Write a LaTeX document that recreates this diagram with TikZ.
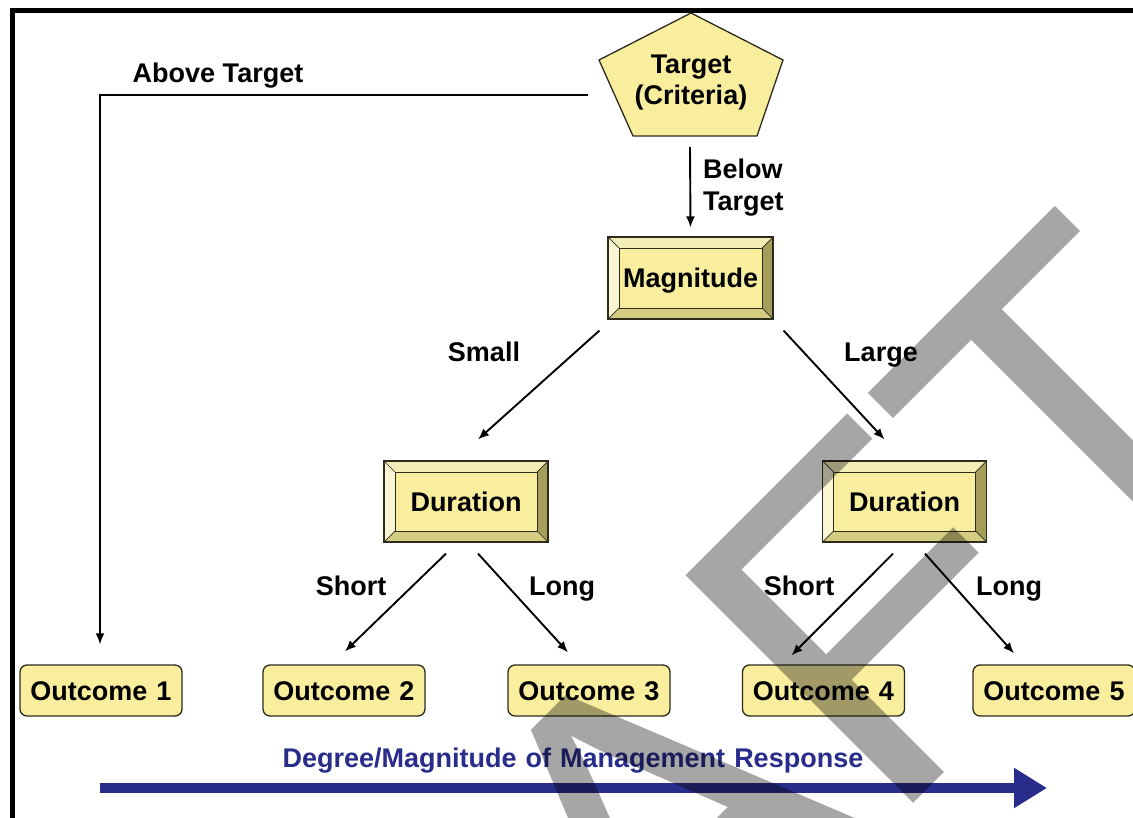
\documentclass[tikz,border=0pt]{standalone}
\usepackage{fontspec}
\setmainfont{Liberation Sans}
\usetikzlibrary{arrows.meta,calc}
\definecolor{boxyellow}{RGB}{248,238,158}
\definecolor{bevtop}{RGB}{243,237,184}
\definecolor{bevleft}{RGB}{250,246,212}
\definecolor{bevright}{RGB}{164,158,90}
\definecolor{bevbottom}{RGB}{212,204,128}
\definecolor{edge}{RGB}{45,43,28}
\definecolor{navy}{RGB}{40,44,138}
\definecolor{wmgray}{RGB}{166,166,166}
\newcommand\bevelpic{%
  \coordinate (bNW) at (path picture bounding box.north west);
  \coordinate (bNE) at (path picture bounding box.north east);
  \coordinate (bSE) at (path picture bounding box.south east);
  \coordinate (bSW) at (path picture bounding box.south west);
  \coordinate (iNW) at ([shift={(11pt,-11pt)}]bNW);
  \coordinate (iNE) at ([shift={(-11pt,-11pt)}]bNE);
  \coordinate (iSE) at ([shift={(-11pt,11pt)}]bSE);
  \coordinate (iSW) at ([shift={(11pt,11pt)}]bSW);
  \fill[bevtop] (bNW) -- (bNE) -- (iNE) -- (iNW) -- cycle;
  \fill[bevright] (bNE) -- (bSE) -- (iSE) -- (iNE) -- cycle;
  \fill[bevbottom] (bSE) -- (bSW) -- (iSW) -- (iSE) -- cycle;
  \fill[bevleft] (bSW) -- (bNW) -- (iNW) -- (iSW) -- cycle;
  \draw[edge, line width=0.9pt] (iNW) rectangle (iSE);
  \draw[edge, line width=0.7pt] (bNW) -- (iNW) (bNE) -- (iNE) (bSE) -- (iSE) (bSW) -- (iSW);
}
\begin{document}
\begin{tikzpicture}[x=1pt,y=1pt,
  lbl/.style={font=\fontsize{27}{33}\selectfont\bfseries, text=black, inner sep=0pt},
  one/.style={lbl, text height=19.4pt, text depth=0pt},
  conn/.style={line width=1.9pt, -{Latex[length=11pt,width=9pt]}},
  outbox/.style={one, draw=edge, line width=1.3pt, fill=boxyellow, rounded corners=7pt, minimum width=162pt, minimum height=51pt},
  bevelbox/.style={one, draw=edge, line width=1.2pt, fill=boxyellow, minimum width=164pt, minimum height=81pt, path picture={\bevelpic}},
]
\useasboundingbox (0,0) rectangle (1133,-818);
\clip (0,0) rectangle (1133,-818);
\fill[white] (0,0) rectangle (1133,-818);

% target pentagon
\filldraw[fill=boxyellow, draw=edge, line width=1.3pt]
  (691,-13) -- (783,-60) -- (757,-136) -- (633,-136) -- (599,-60) -- cycle;
\node[lbl, align=center, font=\fontsize{27}{31}\selectfont\bfseries] (target) at (691,-83) {Target\\(Criteria)};
\coordinate (tb) at (690,-136);
\coordinate (abv) at (588,-95);

% boxes
\node[bevelbox, minimum width=165pt, minimum height=82pt] (mag) at (690.5,-278) {Magnitude};
\node[bevelbox] (durL) at (466,-501.5) {Duration};
\node[bevelbox] (durR) at (904.5,-501.5) {Duration};

\node[outbox] (out1) at (101,-690.5) {Outcome\,\,1};
\node[outbox] (out2) at (344,-690.5) {Outcome\,\,2};
\node[outbox] (out3) at (589,-690.5) {Outcome\,\,3};
\node[outbox] (out4) at (823.5,-690.5) {Outcome\,\,4};
\node[outbox] (out5) at (1054,-690.5) {Outcome\,\,5};

% labels
\node[one] (abovelbl) at (218,-73) {Above Target};
\node[lbl, align=left, anchor=west, font=\fontsize{27}{32}\selectfont\bfseries] (belowlbl) at (703,-188) {Below\\Target};
\node[one] (smalllbl) at (484,-352) {Small};
\node[one] (largelbl) at (881,-352) {Large};
\node[one] (shortL) at (351,-586) {Short};
\node[one] (longL) at (562,-586) {Long};
\node[one] (shortR) at (799,-586) {Short};
\node[one] (longR) at (1009,-586) {Long};

% connectors
\draw[conn] ([yshift=-11pt]tb) -- ([yshift=9pt]mag.north);
\draw[conn] (abv) -| ([xshift=-1pt,yshift=20pt]out1.north);
\draw[conn] ([shift={(-8pt,-11pt)}]mag.south west) -- ([shift={(12pt,21pt)}]durL.north);
\draw[conn] ([shift={(10pt,-11pt)}]mag.south east) -- ([shift={(-20pt,21pt)}]durR.north);
\draw[conn] ([shift={(-20pt,-11pt)}]durL.south) -- ([shift={(1pt,13pt)}]out2.north);
\draw[conn] ([shift={(12pt,-11pt)}]durL.south) -- ([shift={(-21pt,12pt)}]out3.north);
\draw[conn] ([shift={(-11.5pt,-11pt)}]durR.south) -- ([shift={(-32pt,9pt)}]out4.north);
\draw[conn] ([shift={(20.5pt,-11pt)}]durR.south) -- ([shift={(-40pt,11pt)}]out5.north);

% management response arrow
\node[one, text=navy] (deg) at (573,-758) {Degree/Magnitude\,\,of\,\,Management\,\,Response};
\coordinate (bs) at (100,-788);
\coordinate (be) at (1047,-788);
\draw[navy, line width=10pt, -{Triangle[length=33pt,width=38pt]}] (bs) -- (be);

% frame
\draw[line width=5pt] (12,-900) -- (12,-11) -- (1200,-11);

% watermark
\begin{scope}[blend mode=multiply]
\node[rotate=45, anchor=base east, inner sep=0pt, text=wmgray, font=\fontsize{468}{468}\selectfont] (draft) at (1291,-426) {DRAFT};
\end{scope}
\end{tikzpicture}
\end{document}
